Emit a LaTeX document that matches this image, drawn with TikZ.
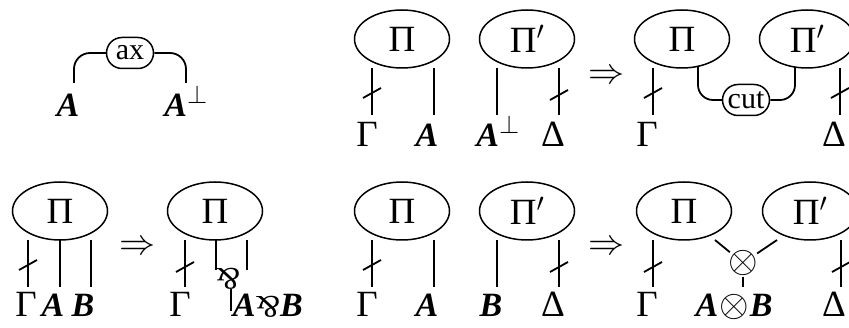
\RequirePackage{fix-cm}
\documentclass[tikz,border=0pt]{standalone}
\usepackage{fontspec}
\setmainfont{Liberation Serif}
\usetikzlibrary{shapes.geometric,shapes.misc}

% formulas and connectives
\newcommand{\atomA}{{\fontsize{34}{40}\selectfont\textbf{\textit{A}}}}
\newcommand{\atomB}{{\fontsize{34}{40}\selectfont\textbf{\textit{B}}}}
\newcommand{\parrsym}{\scalebox{0.85}{\rotatebox[origin=c]{180}{\&}}}
% a vertical wire between two named coordinates
\newcommand{\wire}[4]{\coordinate (#1a) at (#2,#3); \coordinate (#1b) at (#2,#4); \draw (#1a) -- (#1b);}

\begin{document}
\begin{tikzpicture}[x=1pt,y=-1pt,line width=1.8pt,
  every node/.style={font=\fontsize{37}{42}\selectfont,inner sep=0pt},
  proof/.style={ellipse,draw,line width=1.5pt,minimum width=95pt,minimum height=58pt},
  rulebox/.style={rounded rectangle,draw,line width=1.5pt,minimum width=47pt,minimum height=31pt,
    font=\fontsize{30}{32}\selectfont},
  lbl/.style={anchor=base},
  implies/.style={font=\fontsize{36}{40}\selectfont},
  conn/.style={font=\fontsize{38}{40}\selectfont},
  cutmark/.pic={\draw (-9,5) -- (9,-5);}]
\useasboundingbox (0,0) rectangle (849,328);

% ---------- axiom link ----------
\node[rulebox] (ax) at (130,53) {ax};
\coordinate (axl) at (74,83);
\coordinate (axr) at (186,83);
\draw[rounded corners=16pt] (ax.west) -| (axl);
\draw[rounded corners=16pt] (ax.east) -| (axr);
\node[lbl] (axA) at (68,117) {\atomA};
\node[lbl] (axAp) at (186,117) {\atomA$^{\perp}$};

% ---------- cut: before ----------
\node[proof] (c1p) at (402,39) {Π};
\node[proof] (c1q) at (527,39) {Π$'$};
\wire{c1g}{372}{68}{115}
\wire{c1x}{434}{68}{115}
\wire{c1y}{497}{68}{115}
\wire{c1d}{559}{68}{115}
\pic at (372,93) {cutmark};
\pic at (559,95) {cutmark};
\node[lbl] (c1G) at (367,147) {Γ};
\node[lbl] (c1A) at (427,147) {\atomA};
\node[lbl] (c1Ap) at (498,147) {\atomA$^{\perp}$};
\node[lbl] (c1D) at (553,147) {Δ};
\node[implies] (c1to) at (606,77) {$\Rightarrow$};

% ---------- cut: after ----------
\node[proof] (c2p) at (682,39) {Π};
\node[proof] (c2q) at (807,39) {Π$'$};
\wire{c2g}{653}{68}{115}
\wire{c2d}{840}{68}{115}
\pic at (653,93) {cutmark};
\pic at (840,93) {cutmark};
\node[rulebox] (cut) at (746,100) {cut};
\coordinate (c2l) at (698,66);
\coordinate (c2r) at (795,67);
\draw[rounded corners=15pt] (c2l) |- (cut.west);
\draw[rounded corners=15pt] (c2r) |- (cut.east);
\node[lbl] (c2G) at (647,147) {Γ};
\node[lbl] (c2D) at (834,147) {Δ};

% ---------- par: before ----------
\node[proof] (p1p) at (60,211) {Π};
\wire{p1g}{28}{240}{287}
\wire{p1x}{60}{240}{287}
\wire{p1y}{91}{240}{287}
\pic at (28,265) {cutmark};
\node[lbl] (p1G) at (26,317) {Γ};
\node[lbl] (p1A) at (53,317) {\atomA};
\node[lbl] (p1B) at (83,317) {\atomB};
\node[implies] (p1to) at (137,248) {$\Rightarrow$};

% ---------- par: after ----------
\node[proof] (p2p) at (215,211) {Π};
\wire{p2g}{185}{240}{287}
\pic at (185,267) {cutmark};
\node (par) at (228,279) {\parrsym};
\coordinate (p2xa) at (216,240);
\coordinate (p2xb) at (216,270);
\draw (p2xa) -- (p2xb);
\wire{p2y}{247}{240}{270}
\coordinate (p2oa) at (231,289);
\coordinate (p2ob) at (231,311);
\draw (p2oa) -- (p2ob);
\node[lbl] (p2G) at (180,317) {Γ};
\node[anchor=base west] (p2AB) at (232,317) {\atomA\parrsym\atomB};

% ---------- tensor: before ----------
\node[proof] (t1p) at (402,211) {Π};
\node[proof] (t1q) at (527,211) {Π$'$};
\wire{t1g}{372}{240}{287}
\wire{t1x}{434}{240}{287}
\wire{t1y}{497}{240}{287}
\wire{t1d}{559}{240}{287}
\pic at (372,265) {cutmark};
\pic at (559,267) {cutmark};
\node[lbl] (t1G) at (367,317) {Γ};
\node[lbl] (t1A) at (427,317) {\atomA};
\node[lbl] (t1B) at (491,317) {\atomB};
\node[lbl] (t1D) at (553,317) {Δ};
\node[implies] (t1to) at (606,248) {$\Rightarrow$};

% ---------- tensor: after ----------
\node[proof] (t2p) at (684,211) {Π};
\node[proof] (t2q) at (810,211) {Π$'$};
\wire{t2g}{653}{240}{287}
\wire{t2d}{841}{240}{287}
\pic at (653,267) {cutmark};
\pic at (841,267) {cutmark};
\node[conn] (ot) at (743,263) {$\otimes$};
\coordinate (t2l) at (715,240);
\coordinate (t2r) at (777,240);
\draw[shorten >=17pt] (t2l) -- (ot.center);
\draw[shorten >=17pt] (t2r) -- (ot.center);
\coordinate (t2o) at (743,287);
\draw (ot.south) -- (t2o);
\node[lbl] (t2G) at (647,317) {Γ};
\node[lbl] (t2AB) at (734,317) {\atomA\kern1pt{\fontsize{38}{40}\selectfont$\otimes$}\kern1pt\atomB};
\node[lbl] (t2D) at (834,317) {Δ};
\end{tikzpicture}
\end{document}
